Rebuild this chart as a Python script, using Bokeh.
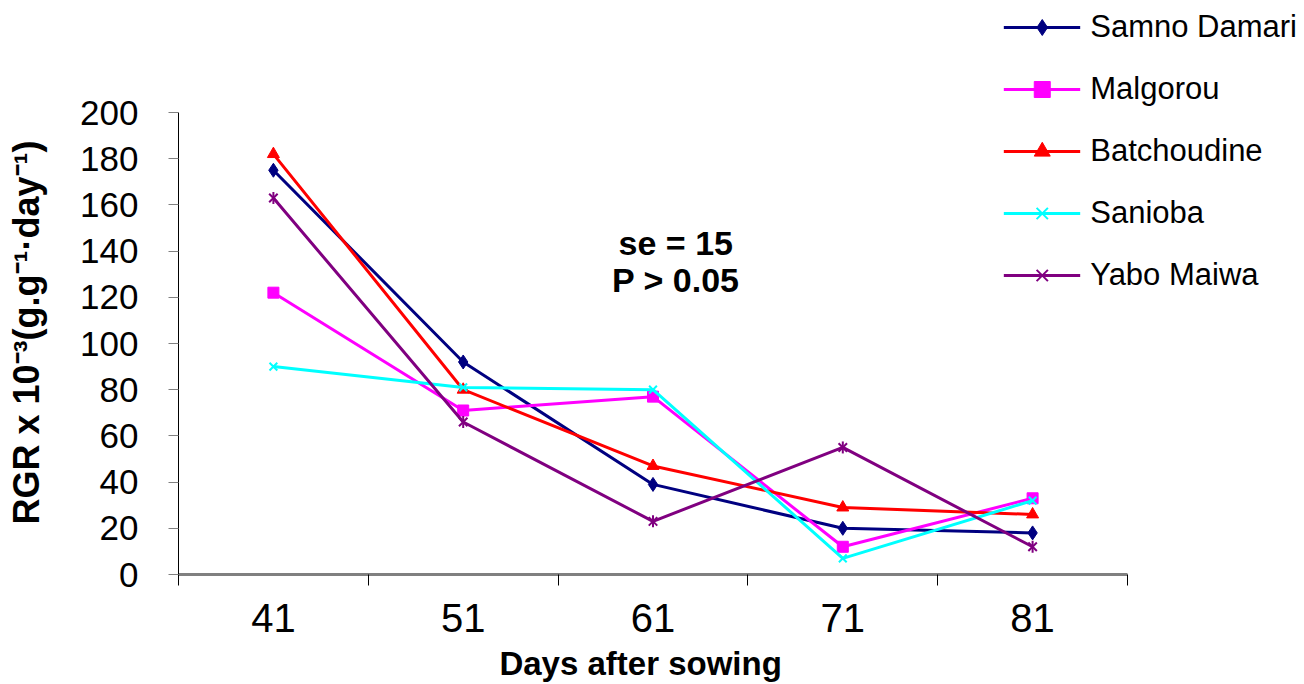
from bokeh.plotting import figure
from bokeh.models import (Range1d, FixedTicker, Legend, LegendItem, Label)
from bokeh.embed import file_html
from bokeh.resources import INLINE

# ---- data ----
days = ["41", "51", "61", "71", "81"]
samno_damari = [175, 92, 39, 20, 18]
malgorou = [122, 71, 77, 12, 33]
batchoudine = [182, 80, 47, 29, 26]
sanioba = [90, 81, 80, 7, 32]
yabo_maiwa = [163, 66, 23, 55, 12]
y_ticks = [0, 20, 40, 60, 80, 100, 120, 140, 160, 180, 200]
annotation_lines = ["se = 15", "P > 0.05"]
annotation_y = [143.7, 127.3]

xpos = [i + 0.5 for i in range(len(days))]

SANS = "Liberation Sans"
NB = "\u00a0"

# frame covers the free space on the top and right so that the legend fits;
# the axes themselves are bounded to the data extent (0..5, 0..200)
BORDER_L, BORDER_B = 178, 110
W, H = 1304, 684
px_per_x = 949 / 5.0
px_per_y = 462 / 200.0
x_max = (W - BORDER_L) / px_per_x
y_max = (H - BORDER_B) / px_per_y

p = figure(width=W, height=H, output_backend="svg", toolbar_location=None,
           x_range=Range1d(0, x_max), y_range=Range1d(0, y_max),
           min_border_left=BORDER_L, min_border_right=0, min_border_top=0,
           min_border_bottom=BORDER_B)
p.title.visible = False
p.outline_line_color = None
p.xgrid.visible = False
p.ygrid.visible = False
p.background_fill_color = "white"
p.border_fill_color = "white"

# x axis
xa = p.xaxis[0]
xa.bounds = (0, len(days))
xa.ticker = FixedTicker(ticks=xpos, minor_ticks=list(range(len(days) + 1)))
xa.major_label_overrides = {x: d for x, d in zip(xpos, days)}
xa.major_tick_out = 0
xa.major_tick_in = 0
xa.minor_tick_out = 11
xa.minor_tick_in = 0
xa.minor_tick_line_color = "black"
xa.axis_line_color = "#808080"
xa.axis_line_width = 3
xa.major_label_text_font = SANS
xa.major_label_text_font_size = "40px"
xa.major_label_text_color = "black"
xa.major_label_standoff = 18
# trailing no-break spaces centre the visible words over the 41..81 span
xa.axis_label = "Days after sowing" + NB * 22
xa.axis_label_text_font = SANS
xa.axis_label_text_font_style = "bold"
xa.axis_label_text_font_size = "33px"
xa.axis_label_text_color = "black"
xa.axis_label_standoff = 10

# y axis
ya = p.yaxis[0]
ya.bounds = (0, 200)
ya.ticker = FixedTicker(ticks=y_ticks, minor_ticks=[])
ya.major_tick_out = 10
ya.major_tick_in = 0
ya.major_tick_line_color = "#808080"
ya.axis_line_color = "black"
ya.axis_line_width = 1
ya.major_label_text_font = SANS
ya.major_label_text_font_size = "35px"
ya.major_label_text_color = "black"
ya.major_label_standoff = 30
ya.axis_label = "RGR x 10\u207b\u00b3(g.g\u207b\u00b9\u00b7day\u207b\u00b9)" + NB * 9
ya.axis_label_text_font = SANS
ya.axis_label_text_font_style = "bold"
ya.axis_label_text_font_size = "36px"
ya.axis_label_text_color = "black"
ya.axis_label_standoff = 30

series = [
    ("Samno Damari", samno_damari, "#000080", "diamond", 14),
    ("Malgorou", malgorou, "#FF00FF", "square", 11),
    ("Batchoudine", batchoudine, "#FF0000", "triangle", 12),
    ("Sanioba", sanioba, "#00FFFF", "x", 11),
    ("Yabo Maiwa", yabo_maiwa, "#800080", "x", 12),
]

items = []
for name, vals, color, marker, size in series:
    r_line = p.line(xpos, vals, line_color=color, line_width=3)
    r_m = p.scatter(xpos, vals, marker=marker, size=size, fill_color=color,
                    line_color=color, line_width=2 if marker == "x" else 1)
    rends = [r_line, r_m]
    if name == "Yabo Maiwa":
        r_v = p.scatter(xpos, vals, marker="dash", angle=1.5708, size=12,
                        line_color=color, line_width=2)
        rends.append(r_v)
    items.append(LegendItem(label=name, renderers=rends))

legend = Legend(items=items, location="top_right",
                orientation="vertical",
                glyph_width=77, glyph_height=40, label_height=40,
                label_standoff=10, spacing=22, padding=0, margin=7,
                border_line_color=None, background_fill_alpha=0,
                label_text_font=SANS, label_text_font_size="31px",
                label_text_color="black")
p.add_layout(legend, "center")

for txt, yy in zip(annotation_lines, annotation_y):
    p.add_layout(Label(x=2.62, y=yy, text=txt,
                       text_align="center", text_baseline="middle",
                       text_font=SANS, text_font_style="bold",
                       text_font_size="34px", text_color="black"))

open("out.html", "w").write(file_html(p, INLINE))
